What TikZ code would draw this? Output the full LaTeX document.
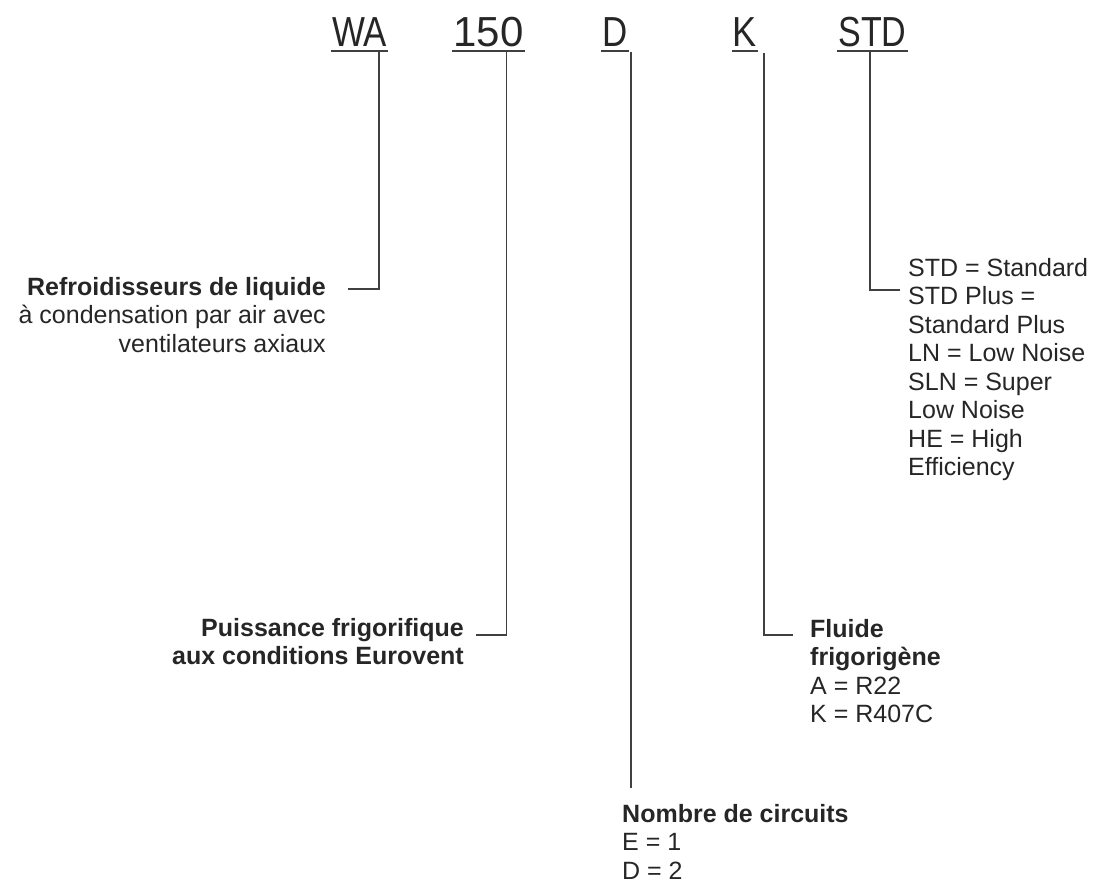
\documentclass[tikz,border=0pt]{standalone}
\usepackage{fontspec}
\setmainfont{Liberation Sans}
\usetikzlibrary{positioning}

\begin{document}
\begin{tikzpicture}[x=1pt,y=-1pt,
  code/.style={anchor=base, inner xsep=1pt, inner ysep=0pt, text=black!85,
    font=\fontsize{42}{42}\selectfont},
  info/.style={inner sep=0pt, text=black!85, font=\fontsize{25}{28.5}\selectfont},
  lead/.style={draw=black!75, line width=1.1pt}]

  \useasboundingbox (0,0) rectangle (1095,888);

  % Type code
  \node[code] (wa)    at (359.5,47) {\scalebox{.83}[1]{WA}};
  \node[code] (num)   at (488.5,47) {150};
  \node[code] (circ)  at (615,47)   {\scalebox{.83}[1]{D}};
  \node[code] (fluid) at (745,47)   {\scalebox{.86}[1]{K}};
  \node[code] (ver)   at (872.5,47) {\scalebox{.81}[1]{STD}};

  \foreach \n in {wa,num,circ,fluid,ver}
    \draw[lead] ([yshift=-4]\n.base west) -- ([yshift=-4]\n.base east);

  % Explanations
  \node[info, anchor=north east, align=right] (tRefr) at (326,277)
    {\textbf{Refroidisseurs de liquide}\\à condensation par air avec\\ventilateurs axiaux};
  \node[info, anchor=north east, align=right] (tPuis) at (464,618)
    {\textbf{Puissance frigorifique}\\\textbf{aux conditions Eurovent}};
  \node[info, anchor=north west, align=left] (tCirc) at (622,804)
    {\textbf{Nombre de circuits}\\E = 1\\D = 2};
  \node[info, anchor=north west, align=left] (tFluid) at (810,619)
    {\textbf{Fluide}\\\textbf{frigorigène}\\A = R22\\K = R407C};
  \node[info, anchor=north west, align=left] (tVer) at (908,258)
    {STD = Standard\\STD Plus =\\Standard Plus\\LN = Low Noise\\SLN = Super\\Low Noise\\HE = High\\Efficiency};

  % Leaders
  \coordinate (kWA)    at (379,289);
  \coordinate (kNum)   at (506.5,635);
  \coordinate (kCirc)  at (631,788);
  \coordinate (kFluid) at (764,635);
  \coordinate (kVer)   at (870,290);

  \draw[lead] ([yshift=-4]wa.base -| kWA) |- ([xshift=22]tRefr.east |- kWA);
  \draw[lead] ([yshift=-4]num.base -| kNum) |- ([xshift=12]tPuis.east |- kNum);
  \draw[lead] ([yshift=-5]circ.base -| kCirc) -- ([yshift=16]tCirc.north -| kCirc);
  \draw[lead] ([yshift=-6]fluid.base -| kFluid) |- ([xshift=-17]tFluid.west |- kFluid);
  \draw[lead] ([yshift=-4]ver.base -| kVer) |- ([xshift=-8]tVer.west |- kVer);

\end{tikzpicture}
\end{document}
